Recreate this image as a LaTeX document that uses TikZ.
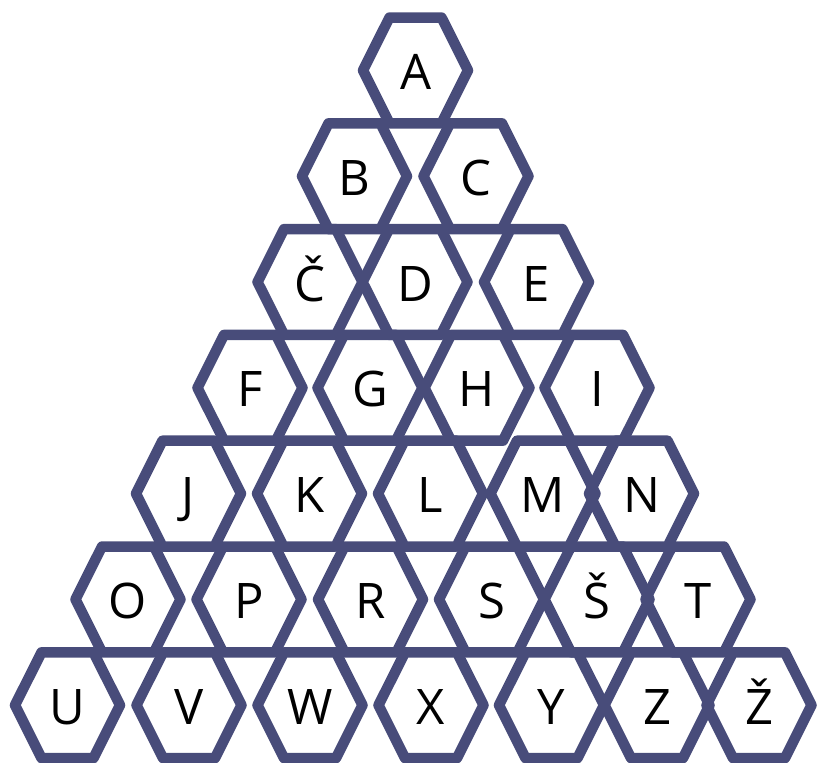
\documentclass[tikz,border=0pt]{standalone}
\usepackage{fontspec}
\setmainfont{Open Sans}
\definecolor{hexblue}{RGB}{72,76,122}
\begin{document}
\begin{tikzpicture}[x=1pt,y=-1pt,
  hexline/.style={draw=hexblue,line width=10.5pt,line join=round},
  letter/.style={anchor=base,font=\fontsize{49}{50}\selectfont,inner sep=0pt,text=black}]
\useasboundingbox (0,0) rectangle (817,763);
\foreach \x/\r/\lab/\nm in {
  415.5/0/A/a,
  354.5/1/B/b, 476/1/C/c,
  310/2/Č/cc, 415/2/D/d, 536.5/2/E/e,
  250/3/F/f, 370/3/G/g, 477/3/H/h, 597/3/I/i,
  188.5/4/J/j, 309.5/4/K/k, 430.5/4/L/l, 543/4/M/m, 641.5/4/N/n,
  128/5/O/o, 249/5/P/p, 370.5/5/R/r, 491.5/5/S/s, 597/5/Š/ss, 698/5/T/t,
  67.5/6/U/u, 189/6/V/v, 310/6/W/w, 431/6/X/xx, 551.5/6/Y/y, 657/6/Z/z, 759/6/Ž/zz}{
  \pgfmathsetmacro{\yc}{70.4+105.8*\r}
  \draw[hexline] (\x-52.5,\yc) -- ++(26.5,-52.9) -- ++(52,0) -- ++(26.5,52.9)
     -- ++(-26.5,52.9) -- ++(-52,0) -- cycle;
  \node[letter] (\nm) at (\x,\yc+19) {\lab};
}
\end{tikzpicture}
\end{document}
